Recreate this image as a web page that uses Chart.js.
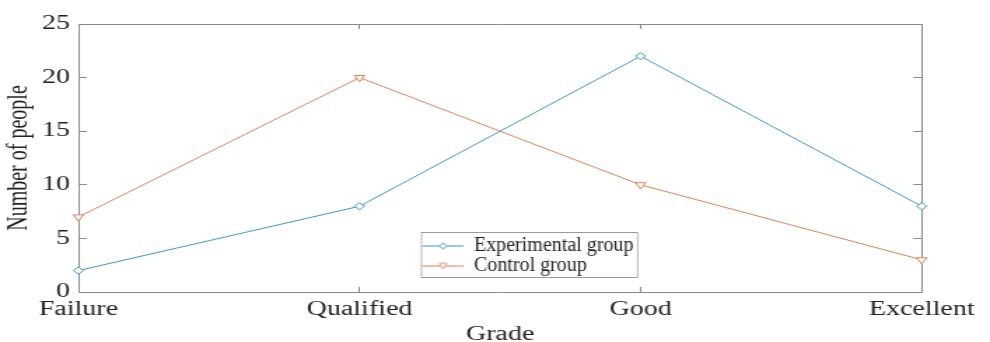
<!DOCTYPE html>
<html>
<head>
<meta charset="utf-8">
<script src="https://cdn.jsdelivr.net/npm/chart.js@4.4.1/dist/chart.umd.min.js"></script>
<style>
  html, body { margin: 0; padding: 0; background: #fff; overflow: hidden; }
  /* the figure is drawn narrow and widened horizontally */
  #wrap { position: absolute; left: 0; top: 0; width: 707px; height: 342px;
          transform: scaleX(1.40028); transform-origin: 0 0; }
</style>
</head>
<body>
<div id="wrap"><canvas id="c"></canvas></div>
<script>
const grades = ['Failure', 'Qualified', 'Good', 'Excellent'];
const experimentalGroup = [2, 8, 22, 8];
const controlGroup = [7, 20, 10, 3];
const yTicks = [0, 5, 10, 15, 20, 25];
const seriesNames = ['Experimental group', 'Control group'];

const STRETCH = 1.40028;
const BLUE = '#3f95cc';
const ORANGE = '#df8058';
const AXIS = '#8a8a8a';
const TEXT = '#222222';
const SERIF = '"Liberation Serif", "Times New Roman", serif';

// small line + marker sample used as the legend symbol
function legendGlyph(color, shape) {
  const c = document.createElement('canvas');
  c.width = 42; c.height = 10;
  const g = c.getContext('2d');
  g.strokeStyle = color; g.lineWidth = 1;
  g.beginPath(); g.moveTo(0, 5.5); g.lineTo(42, 5.5); g.stroke();
  g.fillStyle = '#fff';
  g.beginPath();
  if (shape === 'diamond') {
    g.moveTo(21, 2.5); g.lineTo(25, 5.5); g.lineTo(21, 8.5); g.lineTo(17, 5.5);
  } else {
    g.moveTo(17, 3); g.lineTo(25, 3); g.lineTo(21, 8.5);
  }
  g.closePath(); g.fill(); g.stroke();
  return c;
}
const glyphs = [legendGlyph(BLUE, 'diamond'), legendGlyph(ORANGE, 'triangle')];

// legend sits inside the plot area in a framed box, drawn at screen proportions
const legendFrame = {
  id: 'legendFrame',
  beforeDraw(chart) {
    const lg = chart.legend;
    lg.left = 422; lg.top = 235.5;
    lg.right = lg.left + lg.width; lg.bottom = lg.top + lg.height;
    if (!lg._framed) {
      const baseDraw = lg.draw;
      lg.draw = function () {
        const ctx = chart.ctx;
        ctx.save();
        ctx.scale(1 / STRETCH, 1);
        ctx.fillStyle = '#fff';
        ctx.strokeStyle = '#9a9a9a';
        ctx.lineWidth = 1;
        ctx.fillRect(421.5, 232.5, 216, 45);
        ctx.strokeRect(421.5, 232.5, 216, 45);
        ctx.fillStyle = TEXT;
        baseDraw.call(this);
        ctx.restore();
      };
      lg._framed = true;
    }
  }
};

const tickFont = { family: SERIF, size: 20 };
const hiddenAxisFit = (s) => { if (s.isHorizontal()) s.height = 0; else s.width = 0; };

new Chart(document.getElementById('c'), {
  type: 'line',
  data: {
    labels: grades,
    datasets: [
      {
        label: seriesNames[0], data: experimentalGroup,
        borderColor: BLUE, borderWidth: 1, backgroundColor: '#fff',
        pointStyle: 'rectRot', pointRadius: 3.6, pointBorderWidth: 1,
        pointBackgroundColor: '#fff', pointBorderColor: BLUE, tension: 0
      },
      {
        label: seriesNames[1], data: controlGroup,
        borderColor: ORANGE, borderWidth: 1, backgroundColor: '#fff',
        pointStyle: 'triangle', pointRotation: 180, pointRadius: 4.2, pointBorderWidth: 1,
        pointBackgroundColor: '#fff', pointBorderColor: ORANGE, tension: 0
      }
    ]
  },
  options: {
    responsive: true,
    maintainAspectRatio: false,
    animation: false,
    devicePixelRatio: 1,
    layout: { padding: { top: 18, right: 41, bottom: 0, left: 0 } },
    plugins: {
      tooltip: { enabled: false },
      legend: {
        position: 'chartArea',
        align: 'start',
        labels: {
          usePointStyle: true,
          pointStyleWidth: 42,
          padding: 0,
          color: TEXT,
          font: { family: SERIF, size: 20 },
          generateLabels: (chart) => chart.data.datasets.map((ds, i) => ({
            text: ds.label, pointStyle: glyphs[i], fillStyle: '#fff',
            strokeStyle: ds.borderColor, lineWidth: 0, hidden: false, datasetIndex: i,
            fontColor: TEXT, textAlign: 'left'
          }))
        }
      }
    },
    scales: {
      x: {
        type: 'category',
        position: 'bottom',
        offset: false,
        border: { display: true, color: AXIS, width: 1 },
        grid: { drawOnChartArea: false, drawTicks: true, tickLength: -5, color: AXIS },
        ticks: { color: TEXT, font: tickFont, padding: 11, maxRotation: 0, autoSkip: false },
        title: { display: true, text: 'Grade', color: TEXT,
                 font: { family: SERIF, size: 20, lineHeight: 1 }, padding: { top: 0, bottom: -3 } },
        afterFit: (s) => { s.height = 50; }
      },
      x2: {
        type: 'category',
        position: 'top',
        offset: false,
        border: { display: true, color: AXIS, width: 1 },
        grid: { drawOnChartArea: false, drawTicks: true, tickLength: -5, color: AXIS },
        ticks: { display: false },
        afterFit: hiddenAxisFit
      },
      y: {
        position: 'left',
        min: yTicks[0], max: yTicks[yTicks.length - 1],
        border: { display: true, color: AXIS, width: 1 },
        grid: { drawOnChartArea: false, drawTicks: true, tickLength: -6, color: AXIS },
        ticks: { stepSize: yTicks[1] - yTicks[0], color: TEXT, font: tickFont, padding: 12 },
        title: { display: true, text: 'Number of people', color: TEXT,
                 font: { family: SERIF, size: 20 }, padding: { top: 2, bottom: 0 } },
        afterFit: (s) => { s.width = 56; }
      },
      y2: {
        position: 'right',
        min: yTicks[0], max: yTicks[yTicks.length - 1],
        border: { display: true, color: AXIS, width: 1 },
        grid: { drawOnChartArea: false, drawTicks: true, tickLength: -6, color: AXIS },
        ticks: { display: false, stepSize: yTicks[1] - yTicks[0] },
        afterFit: hiddenAxisFit
      }
    }
  },
  plugins: [legendFrame]
});
</script>
</body>
</html>
